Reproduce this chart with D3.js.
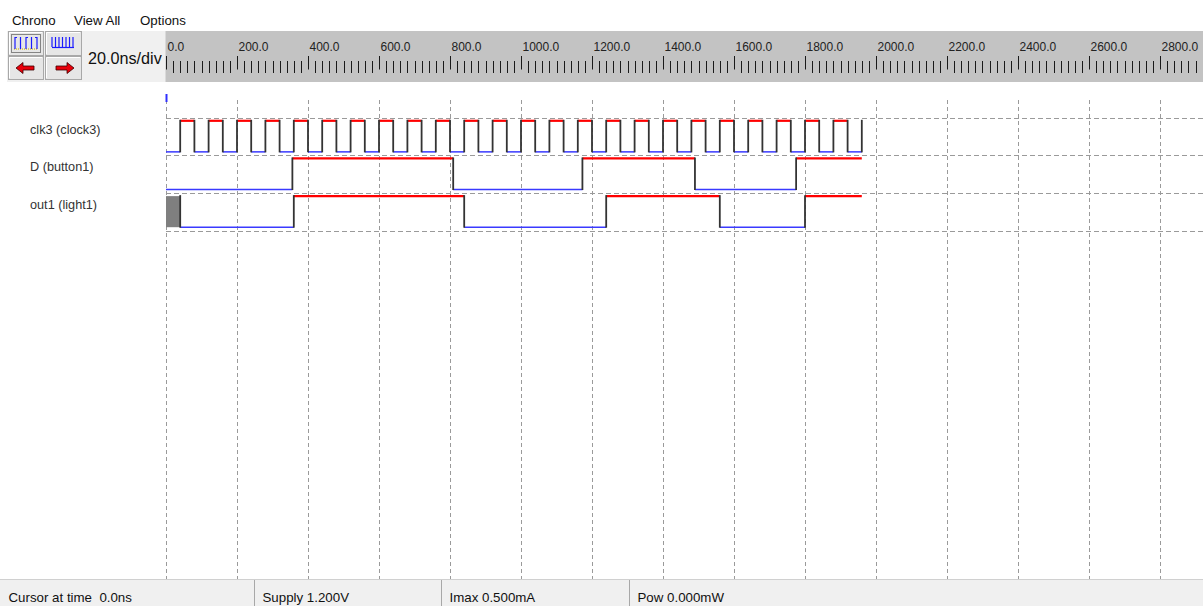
<!DOCTYPE html>
<html>
<head>
<meta charset="utf-8">
<script src="https://cdn.jsdelivr.net/npm/d3@7"></script>
<style>
  html, body { margin: 0; padding: 0; background: #ffffff; overflow: hidden; }
  svg { display: block; font-family: "Liberation Sans", Arial, sans-serif; }
  text { white-space: pre; }
</style>
</head>
<body>
<svg id="chrono" width="1203" height="606"></svg>
<script>
// ---- Timing data (ns) ----
const menuItems = ["Chrono", "View All", "Options"];
const timeDivLabel = "20.0ns/div";
const rulerLabels = ["0.0", "200.0", "400.0", "600.0", "800.0", "1000.0", "1200.0",
                     "1400.0", "1600.0", "1800.0", "2000.0", "2200.0", "2400.0", "2600.0", "2800.0"];
const majorStep = 200;   // ns between labelled ruler ticks
const minorStep = 20;    // ns per division
const simEnd = 1960;     // end of the simulated trace

const signalNames = ["clk3 (clock3)", "D (button1)", "out1 (light1)"];

// transition times and the level taken at each time ("x" = unknown)
const clk3Times  = [0, 40, 80, 120, 160, 200, 240, 280, 320, 360, 400, 440, 480, 520, 560, 600,
                    640, 680, 720, 760, 800, 840, 880, 920, 960, 1000, 1040, 1080, 1120, 1160,
                    1200, 1240, 1280, 1320, 1360, 1400, 1440, 1480, 1520, 1560, 1600, 1640, 1680,
                    1720, 1760, 1800, 1840, 1880, 1920, 1960];
const clk3Levels = [0, 1, 0, 1, 0, 1, 0, 1, 0, 1, 0, 1, 0, 1, 0, 1,
                    0, 1, 0, 1, 0, 1, 0, 1, 0, 1, 0, 1, 0, 1,
                    0, 1, 0, 1, 0, 1, 0, 1, 0, 1, 0, 1, 0,
                    1, 0, 1, 0, 1, 0, 1];
const dTimes     = [0, 356, 809, 1173, 1490, 1775];
const dLevels    = [0, 1, 0, 1, 0, 1];
const out1Times  = [0, 40, 360, 840, 1240, 1560, 1800];
const out1Levels = ["x", 0, 1, 0, 1, 0, 1];

const statusItems = ["Cursor at time  0.0ns", "Supply 1.200V", "Imax 0.500mA", "Pow 0.000mW"];
const statusCells = [0, 254, 441, 629];

const signals = [
  { name: signalNames[0], times: clk3Times, levels: clk3Levels },
  { name: signalNames[1], times: dTimes, levels: dLevels },
  { name: signalNames[2], times: out1Times, levels: out1Levels }
];

// ---- Layout ----
const W = 1203, H = 606;
const svg = d3.select("#chrono");

const x = d3.scaleLinear().domain([0, 2800]).range([166, 1160]);
const rowY = d3.scaleLinear().domain([0, signals.length]).range([117.5, 230.5]);
const inset = 3.3;
const gridTop = 100, gridBottom = 579;

// menu bar
svg.append("g").selectAll("text").data(menuItems).join("text")
  .attr("x", (d, i) => [12, 74, 140][i])
  .attr("y", 25)
  .attr("font-size", 13.3)
  .attr("fill", "#111")
  .text(d => d);

// toolbar panel
svg.append("rect").attr("x", 7).attr("y", 31).attr("width", 159).attr("height", 51).attr("fill", "#f0f0f0");

function button(x0, y0, w, h) {
  const g = svg.append("g");
  g.append("rect").attr("x", x0 + 0.5).attr("y", y0 + 0.5).attr("width", w - 1).attr("height", h - 1)
    .attr("fill", "#e6e6e6").attr("stroke", "#a8a8a8");
  g.append("path").attr("d", `M${x0 + 1.5},${y0 + h - 2} V${y0 + 1.5} H${x0 + w - 2}`)
    .attr("fill", "none").attr("stroke", "#ffffff");
  return g;
}
const b1 = button(8, 31, 36, 25);
const b2 = button(45, 31, 37, 25);
const b3 = button(8, 56, 36, 24);
const b4 = button(45, 56, 37, 24);

// focus rectangle and icon on the first button
b1.append("rect").attr("x", 11.5).attr("y", 34.5).attr("width", 29).attr("height", 18)
  .attr("fill", "none").attr("stroke", "#222").attr("stroke-dasharray", "1,1");
b1.append("path").attr("d", "M14,49 H38").attr("stroke", "#d8c23a").attr("stroke-width", 1.5).attr("stroke-dasharray", "1,1");
b1.selectAll("line").data([15, 20.5, 26, 31.5, 37]).join("line")
  .attr("x1", d => d).attr("x2", d => d).attr("y1", 37).attr("y2", 49)
  .attr("stroke", "#1a1aff").attr("stroke-width", 1.2);
b1.append("path").attr("d", "M15,37.5 H17 M26,37.5 H28 M37,37.5 H35").attr("stroke", "#1a1aff");

// comb icon on the second button
b2.selectAll("line").data([52, 55.5, 59, 62.5, 66, 69.5, 73]).join("line")
  .attr("x1", d => d).attr("x2", d => d).attr("y1", 37).attr("y2", 47)
  .attr("stroke", "#1a1aff").attr("stroke-width", 1.2);
b2.append("path").attr("d", "M52,47.5 H74").attr("stroke", "#1a1aff").attr("stroke-width", 1.2);

// scroll arrows
b3.append("path").attr("d", "M16,68 L23,62.5 L23,66 L34,66 L34,70 L23,70 L23,73.5 Z")
  .attr("fill", "#e8000b").attr("stroke", "#3a0000").attr("stroke-width", 0.8);
b4.append("path").attr("d", "M74,68 L67,62.5 L67,66 L56,66 L56,70 L67,70 L67,73.5 Z")
  .attr("fill", "#e8000b").attr("stroke", "#3a0000").attr("stroke-width", 0.8);

svg.append("text").attr("x", 88).attr("y", 63.5).attr("font-size", 16.2).attr("fill", "#111").text(timeDivLabel);

// ruler
svg.append("rect").attr("x", 165.5).attr("y", 31).attr("width", W - 165.5).attr("height", 51).attr("fill", "#c3c3c3");
const ruler = svg.append("g");
const minorTicks = d3.range(0, x.invert(W) + 1, minorStep).filter(t => t % majorStep !== 0);
const majorTicks = rulerLabels.map((d, i) => i * majorStep);
ruler.selectAll("line.minor").data(minorTicks).join("line").attr("class", "minor")
  .attr("x1", d => Math.round(x(d)) + 0.5).attr("x2", d => Math.round(x(d)) + 0.5)
  .attr("y1", 61).attr("y2", 73).attr("stroke", "#1a1a1a");
ruler.selectAll("line.major").data(majorTicks).join("line").attr("class", "major")
  .attr("x1", d => Math.round(x(d)) + 0.5).attr("x2", d => Math.round(x(d)) + 0.5)
  .attr("y1", 56).attr("y2", 69.5).attr("stroke", "#1a1a1a");
ruler.selectAll("text").data(rulerLabels).join("text")
  .attr("x", (d, i) => x(majorTicks[i]) + 1.5)
  .attr("y", 51)
  .attr("font-size", 12)
  .attr("fill", "#222")
  .text(d => d);

// grid
const grid = svg.append("g");
grid.selectAll("line.v").data(majorTicks.concat([3000])).join("line").attr("class", "v")
  .attr("x1", d => Math.round(x(d)) + 0.5).attr("x2", d => Math.round(x(d)) + 0.5)
  .attr("y1", gridTop).attr("y2", gridBottom)
  .attr("stroke", "#9a9a9a").attr("stroke-dasharray", "4,3");
grid.selectAll("line.h").data(d3.range(signals.length + 1)).join("line").attr("class", "h")
  .attr("x1", x(0)).attr("x2", W)
  .attr("y1", d => Math.round(rowY(d)) + 0.5).attr("y2", d => Math.round(rowY(d)) + 0.5)
  .attr("stroke", "#9a9a9a").attr("stroke-dasharray", "5,3");

// cursor at t = 0
svg.append("line").attr("x1", x(0) + 0.5).attr("x2", x(0) + 0.5).attr("y1", 94).attr("y2", 102)
  .attr("stroke", "#3030ff").attr("stroke-width", 2);

// signal names
svg.append("g").selectAll("text").data(signals).join("text")
  .attr("x", 30)
  .attr("y", (d, i) => rowY(i) + 16)
  .attr("font-size", 12.7)
  .attr("fill", "#333")
  .text(d => d.name);

// waveforms
signals.forEach((s, i) => {
  const top = rowY(i), bottom = rowY(i + 1);
  const yHi = top + inset, yLo = bottom - inset;
  const g = svg.append("g");
  const segs = s.times.map((t, k) => ({
    t0: t,
    t1: k + 1 < s.times.length ? s.times[k + 1] : simEnd,
    v: s.levels[k]
  })).filter(d => d.t1 > d.t0);

  g.selectAll("rect.unk").data(segs.filter(d => d.v === "x")).join("rect").attr("class", "unk")
    .attr("x", d => x(d.t0)).attr("width", d => x(d.t1) - x(d.t0))
    .attr("y", yHi).attr("height", yLo - yHi).attr("fill", "#7f7f7f");

  g.selectAll("line.lvl").data(segs.filter(d => d.v !== "x")).join("line").attr("class", "lvl")
    .attr("x1", d => x(d.t0)).attr("x2", d => x(d.t1))
    .attr("y1", d => d.v === 1 ? yHi : yLo).attr("y2", d => d.v === 1 ? yHi : yLo)
    .attr("stroke", d => d.v === 1 ? "#ff0000" : "#3a3aff")
    .attr("stroke-width", d => d.v === 1 ? 2.2 : 1.5);

  const edges = s.times.filter((t, k) => k > 0);
  g.selectAll("line.edge").data(edges).join("line").attr("class", "edge")
    .attr("x1", d => x(d)).attr("x2", d => x(d))
    .attr("y1", yHi - 1).attr("y2", yLo + 0.5)
    .attr("stroke", "#333").attr("stroke-width", 1.8);
});

// status bar
const status = svg.append("g");
status.append("rect").attr("x", 0).attr("y", 579.5).attr("width", W).attr("height", H - 579.5).attr("fill", "#f0f0f0");
status.append("line").attr("x1", 0).attr("x2", W).attr("y1", 579.5).attr("y2", 579.5).attr("stroke", "#d0d0d0");
status.selectAll("line.sep").data(statusCells.slice(1)).join("line").attr("class", "sep")
  .attr("x1", d => d + 0.5).attr("x2", d => d + 0.5).attr("y1", 580).attr("y2", H)
  .attr("stroke", "#a8a8a8");
status.selectAll("text").data(statusItems).join("text")
  .attr("x", (d, i) => statusCells[i] + 8.5)
  .attr("y", 602)
  .attr("font-size", 13.3)
  .attr("fill", "#111")
  .text(d => d);
</script>
</body>
</html>
